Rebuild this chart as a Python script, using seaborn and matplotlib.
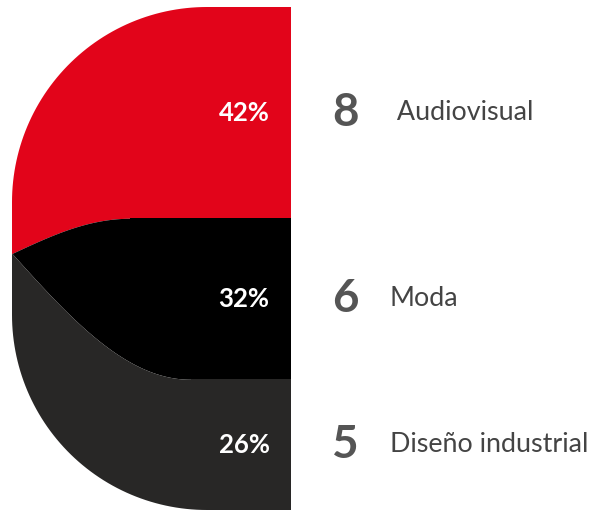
import numpy as np
import seaborn as sns
import matplotlib.pyplot as plt
from matplotlib.patches import PathPatch
from matplotlib.path import Path

# data
categories = [' Audiovisual', 'Moda', 'Diseño industrial']
counts = [8, 6, 5]
shares = [42, 32, 26]
colors = ['#e2041a', '#000000', '#282726']


def outer_shape(x0, x1, rx, ry):
    # left half of a rounded rectangle, y runs 0 (top) -> 100 (bottom)
    t = np.linspace(0, np.pi / 2, 60)
    top = np.column_stack([x0 + rx - rx * np.sin(t), ry - ry * np.cos(t)])
    bot = np.column_stack([x0 + rx - rx * np.cos(t), 100 - ry + ry * np.sin(t)])
    verts = np.vstack([[x1, 0], top, bot, [x1, 100], [x1, 0]])
    return Path(verts, closed=True)


def boundary(x, x0, width, y_meet, y_flat):
    t = np.clip((x - x0) / width, 0, 1)
    return y_meet + (y_flat - y_meet) * np.sin(np.pi / 2 * t)


sns.set_theme(style='white')
plt.rcParams['font.family'] = ['Lato', 'DejaVu Sans']

fig = plt.figure(figsize=(5.94, 5.13), dpi=100)
ax = fig.add_axes([0, 3 / 513, 1, 503 / 513])
ax.set_xlim(0, 594)
ax.set_ylim(100, 0)
ax.axis('off')

x0, x1 = 12, 291
shape = outer_shape(x0, x1, 195, 38.8)
clip = PathPatch(shape, facecolor='none', edgecolor='none')
ax.add_patch(clip)

edges = np.cumsum([0] + shares).astype(float)
y_meet = 49.0
xs = np.linspace(x0 - 2, x1, 400)
b1 = boundary(xs, x0, 118, y_meet, edges[1])
b2 = boundary(xs, x0, 178, y_meet, edges[2])
lows = [np.zeros_like(xs), b1, b2]
highs = [b1, b2, np.full_like(xs, 100.0)]

for lo, hi, c in zip(lows, highs, colors):
    poly = ax.fill_between(xs, lo, hi, color=c, lw=0)
    poly.set_clip_path(clip)

centers = (edges[:-1] + edges[1:]) / 2
for yc, share, n, cat in zip(centers, shares, counts, categories):
    ax.text(244, yc, f'{share}%', color='white', fontsize=18.5, fontweight='bold',
            ha='center', va='center')
    ax.text(345, yc, str(n), color='#555555', fontsize=33, fontweight='bold',
            ha='center', va='center')
    ax.text(390, yc, cat, color='#444444', fontsize=19.4, ha='left', va='center')

fig.savefig('out.png', dpi=100)
